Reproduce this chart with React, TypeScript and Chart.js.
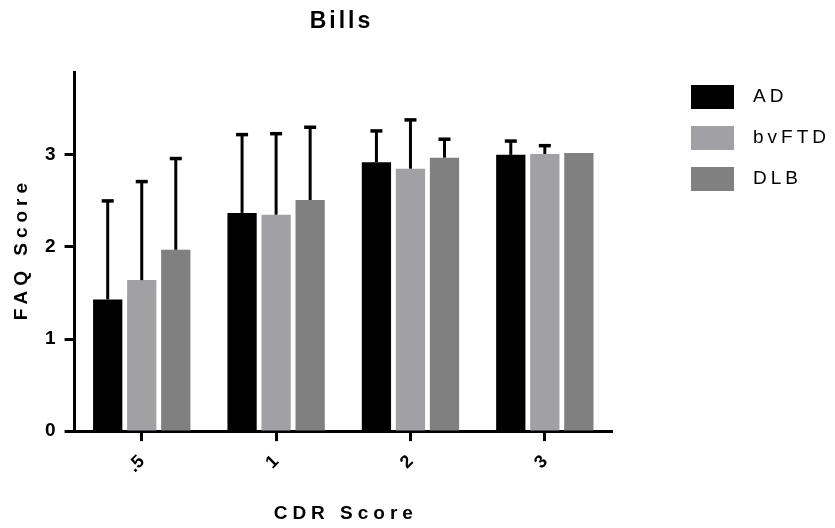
import React, { useEffect, useRef } from 'react';
import { Chart, registerables } from 'chart.js';

Chart.register(...registerables);

const chartTitle = 'Bills';
const xTitle = 'CDR Score';
const yTitle = 'FAQ Score';
const categories = ['.5', '1', '2', '3'];
const seriesNames = ['AD', 'bvFTD', 'DLB'];
const adValues = [1.43, 2.37, 2.92, 3.0];
const bvftdValues = [1.64, 2.35, 2.85, 3.01];
const dlbValues = [1.97, 2.51, 2.97, 3.02];
const adErrors = [1.07, 0.85, 0.34, 0.15];
const bvftdErrors = [1.07, 0.88, 0.53, 0.09];
const dlbErrors = [0.99, 0.79, 0.2, 0];
const yTicks = [0, 1, 2, 3];
const colors = ['#000000', '#a1a1a5', '#808080'];

const FONT = '"Liberation Sans", Arial, Helvetica, sans-serif';

const errorBarPlugin = {
  id: 'errorBars',
  afterDatasetsDraw(chart: any) {
    const ctx = chart.ctx;
    const yScale = chart.scales.y;
    chart.data.datasets.forEach((ds: any, i: number) => {
      const meta = chart.getDatasetMeta(i);
      const errs: number[] = ds.errors || [];
      meta.data.forEach((bar: any, j: number) => {
        const e = errs[j];
        if (!e) return;
        const top = yScale.getPixelForValue(ds.data[j] + e);
        ctx.save();
        ctx.strokeStyle = '#000';
        ctx.lineWidth = 3;
        ctx.lineCap = 'butt';
        ctx.beginPath();
        ctx.moveTo(bar.x, bar.y);
        ctx.lineTo(bar.x, top);
        ctx.stroke();
        ctx.lineWidth = 3.5;
        ctx.beginPath();
        ctx.moveTo(bar.x - 6, top);
        ctx.lineTo(bar.x + 6, top);
        ctx.stroke();
        ctx.restore();
      });
    });
  },
};

const textPlugin = {
  id: 'texts',
  afterDraw(chart: any) {
    const ctx = chart.ctx;
    const area = chart.chartArea;
    const spaced = (text: string, x: number, y: number, font: string, spacing: number, align: CanvasTextAlign) => {
      ctx.save();
      ctx.font = font;
      (ctx as any).letterSpacing = spacing + 'px';
      ctx.fillStyle = '#000';
      ctx.textAlign = align;
      ctx.textBaseline = 'middle';
      ctx.fillText(text, align === 'center' ? x + spacing / 2 : x, y);
      ctx.restore();
    };
    spaced(chartTitle, 340, 22, `bold 23px ${FONT}`, 3, 'center');
    spaced(xTitle, (area.left + area.right) / 2, 514, `bold 19px ${FONT}`, 5, 'center');
    ctx.save();
    ctx.translate(22, (area.top + area.bottom) / 2);
    ctx.rotate(-Math.PI / 2);
    spaced(yTitle, 0, 0, `bold 19px ${FONT}`, 5, 'center');
    ctx.restore();
    chart.data.datasets.forEach((ds: any, i: number) => {
      const bx = 691;
      const by = 85 + i * 41;
      ctx.save();
      ctx.fillStyle = ds.backgroundColor;
      ctx.fillRect(bx, by, 43, 24);
      ctx.restore();
      spaced(ds.label, 753, by + 12, `19px ${FONT}`, 4, 'left');
    });
  },
};

export default function App() {
  const canvasRef = useRef<HTMLCanvasElement | null>(null);

  useEffect(() => {
    if (!canvasRef.current) return;
    const valueSets = [adValues, bvftdValues, dlbValues];
    const errorSets = [adErrors, bvftdErrors, dlbErrors];
    const chart = new Chart(canvasRef.current, {
      type: 'bar',
      data: {
        labels: categories,
        datasets: seriesNames.map((name, i) => ({
          label: name,
          data: valueSets[i],
          errors: errorSets[i],
          backgroundColor: colors[i],
          borderWidth: 0,
          categoryPercentage: 0.76,
          barPercentage: 0.86,
        })) as any,
      },
      options: {
        animation: false,
        responsive: true,
        maintainAspectRatio: false,
        layout: { padding: { left: 36, right: 223, top: 72, bottom: 41 } },
        plugins: {
          legend: { display: false },
          title: { display: false },
          tooltip: { enabled: false },
        },
        scales: {
          x: {
            offset: true,
            grid: {
              display: true,
              offset: false,
              drawOnChartArea: false,
              drawTicks: true,
              tickLength: 10,
              tickWidth: 3,
              tickColor: '#000',
            },
            border: { display: true, color: '#000', width: 3 },
            ticks: {
              color: '#000',
              font: { family: FONT, size: 18, weight: 'bold' },
              minRotation: 45,
              maxRotation: 45,
              padding: 10,
            },
          },
          y: {
            min: 0,
            max: 3.9,
            afterBuildTicks: (scale: any) => {
              scale.ticks = yTicks.map((v) => ({ value: v }));
            },
            grid: {
              display: true,
              drawOnChartArea: false,
              drawTicks: true,
              tickLength: 10,
              tickWidth: 3,
              tickColor: '#000',
            },
            border: { display: true, color: '#000', width: 3 },
            ticks: {
              color: '#000',
              font: { family: FONT, size: 19, weight: 'bold' },
              padding: 9,
            },
          },
        },
      } as any,
      plugins: [errorBarPlugin, textPlugin],
    });
    return () => chart.destroy();
  }, []);

  return (
    <div style={{ position: 'absolute', left: 0, top: 0, width: 835, height: 528, background: '#fff' }}>
      <canvas ref={canvasRef} />
    </div>
  );
}
